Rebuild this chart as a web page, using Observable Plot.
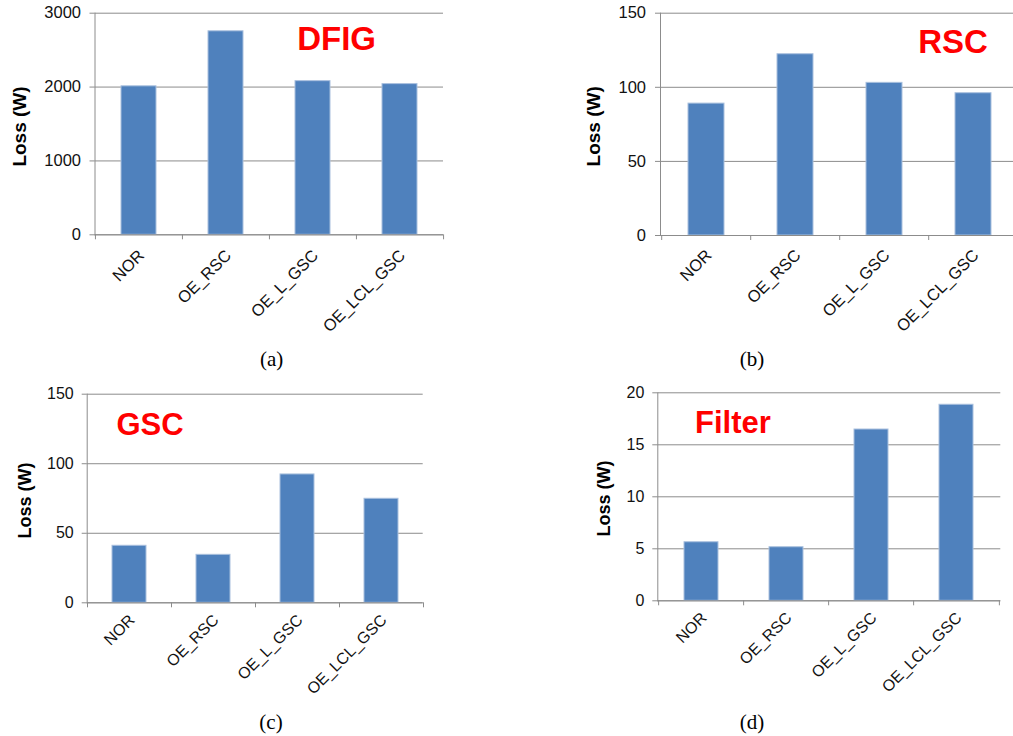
<!DOCTYPE html>
<html><head><meta charset="utf-8">
<script src="https://cdn.jsdelivr.net/npm/d3@7"></script>
<script src="https://cdn.jsdelivr.net/npm/@observablehq/plot@0.6"></script>
<style>
html,body{margin:0;padding:0;background:#fff;}
#root{position:relative;width:1013px;height:736px;overflow:hidden;background:#fff;}
.panel{position:absolute;}
.panel svg{max-width:none !important;}
.cap{position:absolute;font-family:"Liberation Serif","Times New Roman",serif;font-size:21px;line-height:20px;text-align:center;width:60px;color:#000;white-space:nowrap;}
</style></head><body><div id="root"></div>
<script>
// ---- data ----
const categories = ["NOR", "OE_RSC", "OE_L_GSC", "OE_LCL_GSC"];
const dfigLoss   = [2010, 2755, 2080, 2040];
const rscLoss    = [89, 122.3, 103, 96];
const gscLoss    = [41, 34.5, 92.3, 74.8];
const filterLoss = [5.63, 5.15, 16.47, 18.85];
const dfigTicks   = [0, 1000, 2000, 3000];
const rscTicks    = [0, 50, 100, 150];
const gscTicks    = [0, 50, 100, 150];
const filterTicks = [0, 5, 10, 15, 20];
const yLabel = "Loss (W)";
const panelNames = ["DFIG", "RSC", "GSC", "Filter"];
const captions = ["(a)", "(b)", "(c)", "(d)"];

// ---- layout ----
const layouts = [
  {values: dfigLoss, ticks: dfigTicks, left: 0, top: 0, width: 480, height: 340,
   fx1: 94.5, fx2: 443, fy1: 12.7, fy2: 234.3, tickFont: 16.5, labelFont: 19, nameFont: 33,
   nameDx: 202.2, nameDy: 26, ylabDx: -75, ylabDy: 2.5, xPad: 18, yPad: 9, capX: 271.7, capY: 366},
  {values: rscLoss, ticks: rscTicks, left: 520, top: 0, width: 510, height: 340,
   fx1: 660, fx2: 1018.5, fy1: 12.7, fy2: 235, tickFont: 16.5, labelFont: 19, nameFont: 33,
   nameDx: 257.7, nameDy: 29.3, ylabDx: -67, ylabDy: 2, xPad: 17, yPad: 9.5, capX: 752, capY: 366},
  {values: gscLoss, ticks: gscTicks, left: 0, top: 380, width: 480, height: 330,
   fx1: 86.7, fx2: 422.7, fy1: 393.7, fy2: 602.3, tickFont: 16, labelFont: 18, nameFont: 31,
   nameDx: 29.3, nameDy: 30.5, ylabDx: -61.7, ylabDy: 2, xPad: 14.7, yPad: 8.5, capX: 271, capY: 729},
  {values: filterLoss, ticks: filterTicks, left: 520, top: 380, width: 493, height: 330,
   fx1: 657.3, fx2: 1000.3, fy1: 392.3, fy2: 600.3, tickFont: 16, labelFont: 18, nameFont: 31,
   nameDx: 37.2, nameDy: 30.2, ylabDx: -54, ylabDy: 1.7, xPad: 14.5, yPad: 8.5, capX: 752, capY: 729}
];

const gray = "#8c8c8c";
const barBlue = "#4F81BD";
const root = document.getElementById("root");

layouts.forEach((L, i) => {
  const data = categories.map((c, j) => ({cat: c, val: L.values[j]}));
  const frameW = L.fx2 - L.fx1;
  const step = frameW / categories.length;
  const chart = Plot.plot({
    width: L.width,
    height: L.height,
    marginLeft: L.fx1 - L.left,
    marginRight: L.left + L.width - L.fx2,
    marginTop: L.fy1 - L.top,
    marginBottom: L.top + L.height - L.fy2,
    style: {fontFamily: "'Liberation Sans', Arial, sans-serif", fontSize: L.tickFont + "px", color: "#111", background: "transparent", overflow: "visible", maxWidth: "none"},
    x: {domain: categories, paddingInner: 0.6, paddingOuter: 0.3, axis: null, label: null},
    y: {domain: [L.ticks[0], L.ticks[L.ticks.length - 1]], axis: null, label: null},
    marks: [
      Plot.gridY(L.ticks, {stroke: gray, strokeOpacity: 1, strokeWidth: 1}),
      Plot.frame({anchor: "left", stroke: gray}),
      Plot.axisY(L.ticks, {tickSize: 5, tickPadding: L.yPad, stroke: gray, fill: "#111", fontSize: L.tickFont, tickFormat: d3.format("d"), label: null}),
      Plot.barY(data, {x: "cat", y: "val", fill: barBlue, stroke: "#a9c0de", strokeWidth: 1}),
      Plot.ruleY([L.ticks[0]], {stroke: gray}),
      Plot.axisX({ticks: categories, tickSize: 5, stroke: gray, tickFormat: () => "", dx: -step / 2, label: null}),
      Plot.axisX({ticks: [categories[categories.length - 1]], tickSize: 5, stroke: gray, tickFormat: () => "", dx: step / 2, label: null}),
      Plot.axisX({tickSize: 0, tickRotate: -45, tickPadding: L.xPad, dx: 2.5, fill: "#111", fontSize: L.tickFont, label: null}),
      Plot.text([yLabel], {text: d => d, frameAnchor: "left", rotate: -90, dx: L.ylabDx, dy: L.ylabDy, fontWeight: "bold", fontSize: L.labelFont, textAnchor: "middle", lineAnchor: "middle", fill: "#000"}),
      Plot.text([panelNames[i]], {text: d => d, frameAnchor: "top-left", dx: L.nameDx, dy: L.nameDy, textAnchor: "start", lineAnchor: "middle", fontWeight: "bold", fontSize: L.nameFont, fill: "#ff0000"})
    ]
  });
  const wrap = document.createElement("div");
  wrap.className = "panel";
  wrap.style.left = L.left + "px";
  wrap.style.top = L.top + "px";
  wrap.style.width = L.width + "px";
  wrap.style.height = L.height + "px";
  wrap.appendChild(chart);
  root.appendChild(wrap);

  const cap = document.createElement("div");
  cap.className = "cap";
  cap.textContent = captions[i];
  cap.style.left = (L.capX - 30) + "px";
  cap.style.top = (L.capY - 17) + "px";
  root.appendChild(cap);
});
</script></body></html>
